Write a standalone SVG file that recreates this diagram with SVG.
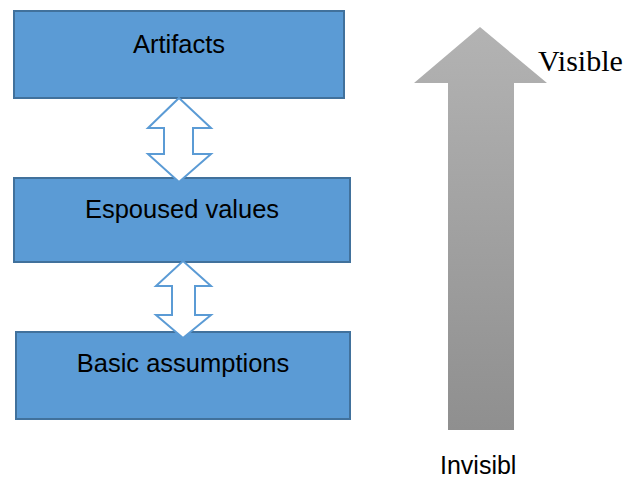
<svg xmlns="http://www.w3.org/2000/svg" width="632" height="481" viewBox="0 0 632 481">
<style>
.box{fill:#5b9bd5;stroke:#41719c;stroke-width:2}
.lbl{font-family:"Liberation Sans",Arial,sans-serif;font-size:25.5px;fill:#000;text-anchor:middle}
.dbl{fill:#fff;stroke:#5b9bd5;stroke-width:2;stroke-linejoin:miter}
</style>
<defs>
<linearGradient id="g" x1="0" y1="0" x2="0" y2="1">
<stop offset="0" stop-color="#b3b3b3"/>
<stop offset="1" stop-color="#8f8f8f"/>
</linearGradient>
</defs>
<rect width="632" height="481" fill="#fff"/>
<g id="artifacts"><rect class="box" x="14" y="11" width="330" height="87"/><text class="lbl" x="179" y="53">Artifacts</text></g>
<g id="espoused"><rect class="box" x="14" y="178" width="336" height="84"/><text class="lbl" x="182" y="218">Espoused values</text></g>
<g id="basic"><rect class="box" x="16" y="332" width="334" height="87"/><text class="lbl" x="183" y="372">Basic assumptions</text></g>
<g id="connectors">
<polygon class="dbl" points="179,98 211,128 193,128 193,154 211,154 179,182 148,154 164,154 164,128 148,128"/>
<polygon class="dbl" points="183,261 211,286 195,286 195,315 211,315 183,338 156,315 172,315 172,286 156,286"/>
</g>
<g id="visibility">
<polygon points="480,27 547,83 514,83 514,430 448,430 448,83 414,83" fill="url(#g)"/>
<text x="440" y="71" dx="98" font-family="'Liberation Serif','Times New Roman',serif" font-size="30" fill="#000">Visible</text>
<text x="440" y="474" font-family="'Liberation Sans',Arial,sans-serif" font-size="25" fill="#000">Invisibl</text>
</g>
</svg>
